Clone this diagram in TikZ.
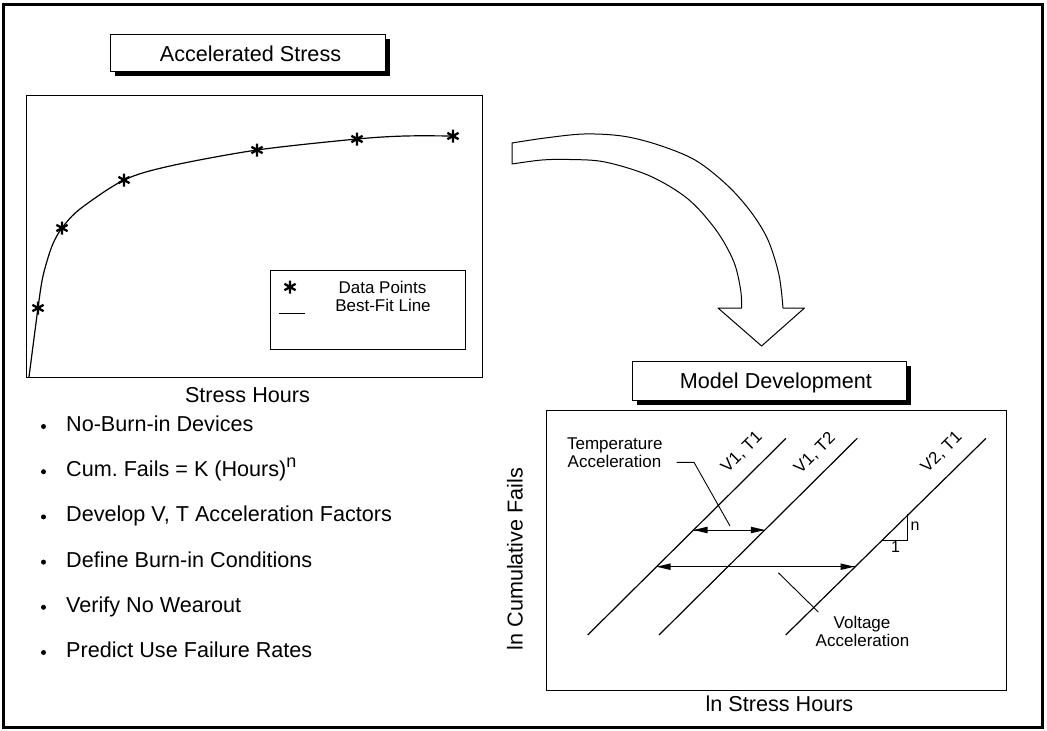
\documentclass[tikz,border=0pt]{standalone}
\usepackage{fontspec}
\setmainfont{Liberation Sans}
\usetikzlibrary{arrows.meta}
\frenchspacing

\tikzset{
  big/.style={font=\fontsize{21.6}{26}\selectfont, inner sep=0pt},
  small/.style={font=\fontsize{17}{18.4}\selectfont, inner sep=0pt},
  tiny/.style={font=\fontsize{16}{18}\selectfont, inner sep=0pt},
  thinline/.style={line width=0.9pt},
  curveline/.style={line width=1.2pt, line join=round},
  slant/.style={line width=1.2pt},
  spanline/.style={line width=1pt},
  titlebox/.style={draw, fill=white, line width=0.9pt, inner sep=0pt,
    preaction={draw=none, fill=black, transform canvas={shift={(5pt,-5pt)}}}},
  ast/.pic={\draw[line width=2.3pt] (0,-6.5)--(0,6.5) (-5.6,-3.2)--(5.6,3.2) (-5.6,3.2)--(5.6,-3.2);},
  bullet/.style={circle, fill, inner sep=0pt, minimum size=5pt}
}

\begin{document}
\begin{tikzpicture}[x=1pt,y=-1pt]
\useasboundingbox (0,0) rectangle (1047,731);

% outer frame
\draw[line width=3pt] (3,4.5) rectangle (1042,727);

% ---------------- accelerated stress panel ----------------
\node[titlebox, minimum width=275pt, minimum height=37pt] (accbox) at (247.5,52.5) {};
\node[big, anchor=base] (acc) at (250.5,61) {Accelerated Stress};

\draw[thinline] (26,95) rectangle (482,377);

% best-fit line through the data
\draw[curveline] plot[smooth, tension=0.5] coordinates {
  (29,377) (38,308) (43,276) (52,246) (62,228) (80,209) (124,180)
  (170,166) (257,150) (357,139) (405,136) (453,136)};

% data points
\foreach \px/\py in {38/308, 62/228, 124/180, 257/150, 357/139, 453/136}
  \pic at (\px,\py) {ast};

% legend
\draw[thinline] (270,270) rectangle (465,349);
\pic at (290,287) {ast};
\draw[thinline] (279,313) -- (305,313);
\node[font=\fontsize{17}{18}\selectfont, inner sep=0pt, anchor=base] (dp) at (382.5,293.3) {Data Points};
\node[font=\fontsize{17}{18}\selectfont, inner sep=0pt, anchor=base] (bf) at (383,311) {Best-Fit Line};

\node[big, anchor=base] (sh) at (247.5,402) {Stress Hours};

% bullet list
\foreach \i/\txt in {0/{No-Burn-in Devices},
                      1/{Cum. Fails = K (Hours)\raisebox{0.8ex}{\fontsize{18}{18}\selectfont n}},
                      2/{Develop V, T Acceleration Factors},
                      3/{Define Burn-in Conditions},
                      4/{Verify No Wearout},
                      5/{Predict Use Failure Rates}} {
  \node[bullet] (b\i) at (43.5,{426.5+45.2*\i}) {};
  \node[big, anchor=base west] (t\i) at (66,{431.5+45.2*\i}) {\txt};
}

% ---------------- bent block arrow ----------------
\draw[line width=1pt, line join=round, fill=white]
  plot[smooth, tension=0.55] coordinates {
    (512,143) (545,138) (584,134) (622,136) (657,144.5) (695,160)
    (727,185) (751,212) (768,240) (779,275) (783,308)}
  -- (804.5,308) -- (761.6,346) -- (718,308) --
  plot[smooth, tension=0.55] coordinates {
    (741.7,308) (740.5,289) (733.5,261) (716,230) (688,199) (650,176)
    (605,162) (570,159.5) (542,160) (512,164)}
  -- cycle;

% ---------------- model development panel ----------------
\node[titlebox, minimum width=274pt, minimum height=39pt] (mdbox) at (769,380.5) {};
\node[big, anchor=base] (md) at (776,388.5) {Model Development};

\draw[thinline] (546,410) rectangle (1006,690);

% parallel lines
\coordinate (l1s) at (587.7,635);  \coordinate (l1e) at (786,438.3);
\coordinate (l2s) at (659,635);    \coordinate (l2e) at (857.3,438.3);
\coordinate (l3s) at (785.7,635);  \coordinate (l3e) at (986,438.3);
\draw[slant] (l1s) -- (l1e);
\draw[slant] (l2s) -- (l2e);
\draw[slant] (l3s) -- (l3e);

\node[small, rotate=45] (lab1) at (742,452.5) {V1, T1};
\node[small, rotate=45] (lab2) at (815,453.3) {V1, T2};
\node[small, rotate=45] (lab3) at (941.7,452.5) {V2, T1};

% acceleration spans with solid heads at both ends
\coordinate (ta) at (693.5,530);  \coordinate (tb) at (764.9,530);
\coordinate (va) at (656.5,566.7); \coordinate (vb) at (854.5,566.7);
\draw[spanline] (ta) -- (tb);
\draw[spanline] (va) -- (vb);
\foreach \p in {ta,va}
  \fill (\p) -- ++(14,-3.3) -- ++(0,6.6) -- cycle;
\foreach \p in {tb,vb}
  \fill (\p) -- ++(-14,-3.3) -- ++(0,6.6) -- cycle;

% leaders
\node[small, anchor=base] (temp) at (614.8,449.3) {Temperature};
\node[small, anchor=base] (tacc) at (614.5,467.7) {Acceleration};
\coordinate (tl0) at (676.7,462.3);
\coordinate (tl1) at (694,462.3);
\coordinate (tl2) at (730,526);
\draw[thinline] (tl0) -- (tl1) -- (tl2);

\node[small, anchor=base] (volt) at (862,628.3) {Voltage};
\node[small, anchor=base] (vacc) at (862.5,646.7) {Acceleration};
\coordinate (vl0) at (778.3,572.7);
\coordinate (vl1) at (818.3,612);
\draw[thinline] (vl0) -- (vl1);

% slope triangle
\coordinate (s1) at (907.6,514.3);
\coordinate (s2) at (907.6,540);
\coordinate (s3) at (881.6,540);
\draw[thinline] (s1) -- (s2) -- (s3);
\node[tiny, anchor=base] (sn) at (915,530) {n};
\node[tiny, anchor=base] (s1lab) at (895.5,552.7) {1};

% axis labels
\node[big, anchor=base] (xs) at (779.5,711.7) {ln Stress Hours};
\node[big, rotate=90] (ys) at (515,559) {ln Cumulative Fails};
\end{tikzpicture}
\end{document}
